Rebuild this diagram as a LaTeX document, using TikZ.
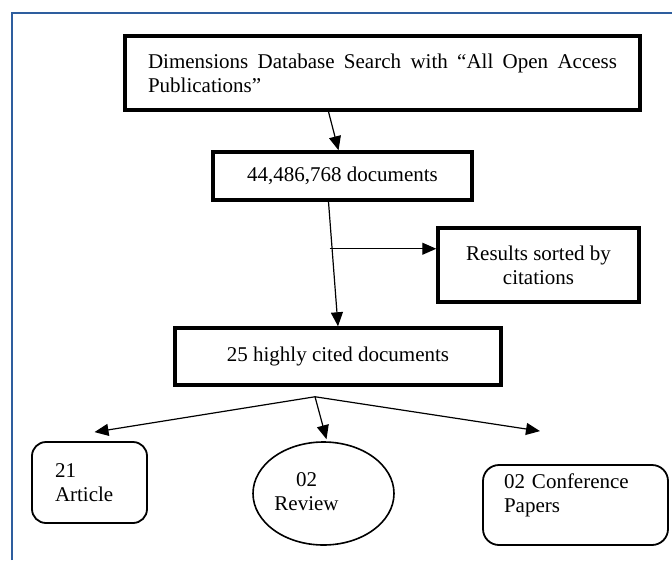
\documentclass[tikz,border=0pt]{standalone}
\usepackage{fontspec}
\setmainfont{Liberation Serif}
\usetikzlibrary{arrows.meta,shapes.geometric}
\definecolor{frameblue}{RGB}{46,94,158}
\tikzset{
	stepbox/.style={draw, line width=3.5pt, inner sep=0pt},
	typebox/.style={draw, line width=1.8pt, rounded corners=14pt, inner sep=0pt, align=left},
	flow/.style={->, line width=1.2pt},
}

\begin{document}
\begin{tikzpicture}[x=1pt, y=-1pt, every node/.style={font=\fontsize{21}{24}\selectfont}, >={Triangle[length=14pt, width=12pt]}]
	\useasboundingbox (0,0) rectangle (672,560);
	\draw[frameblue, line width=1.3pt] (12,560) -- (12,13) -- (672,13);
	\node[stepbox, minimum width=515pt, minimum height=74pt, text width=469pt, align=justify] (search) at (382.5,73) {Dimensions Database Search with “All Open Access Publications”};
	\node[stepbox, minimum width=259pt, minimum height=48pt] (total) at (342.5,176) {44,486,768 documents};
	\node[stepbox, minimum width=201pt, minimum height=74pt, align=center] (sorted) at (538.5,265) {Results sorted by\\citations};
	\node[stepbox, minimum width=326pt, minimum height=57pt] (cited) at (338,356.5) {25 highly cited documents};
	\node[typebox, minimum width=115pt, minimum height=81pt, text width=69pt] (article) at (89.5,482.5) {21\\Article};
	\node[ellipse, draw, line width=1.6pt, minimum width=141pt, minimum height=103pt, inner sep=0pt] (review) at (323.5,493.5) {\begin{tabular}{@{}c@{\hspace{34pt}}}02\\Review\end{tabular}};
	\node[typebox, rounded corners=16pt, minimum width=185pt, minimum height=80pt, text width=143pt] (conference) at (575.5,505) {02 Conference\\Papers\\\mbox{}};
	\draw[flow] ([xshift=-54pt]search.south) -- ([xshift=-4pt]total.north);
	\draw[flow] ([xshift=-14pt]total.south) -- (cited.north);
	\coordinate (branch) at ([xshift=-13pt, yshift=-47pt]total.south);
	\draw[flow] (branch) -- (branch -| sorted.west);
	\coordinate (split) at ([xshift=-23pt, yshift=-10pt]cited.south);
	\draw[flow] (split) -- ([xshift=5pt, yshift=9pt]article.north);
	\draw[flow] (split) -- ([xshift=3pt, yshift=2pt]review.north);
	\draw[flow] (split) -- ([xshift=-35.5pt, yshift=33pt]conference.north);
\end{tikzpicture}
\end{document}
